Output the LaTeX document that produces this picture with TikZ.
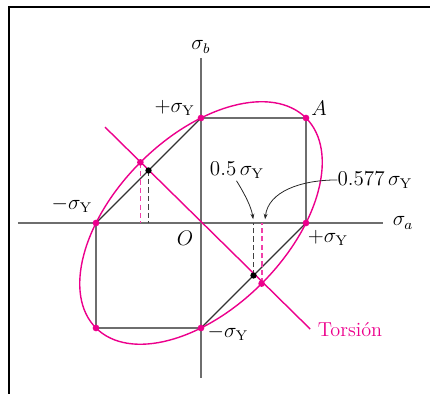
\documentclass[tikz,border=0pt]{standalone}
\usetikzlibrary{arrows.meta}
\definecolor{mag}{RGB}{236,0,140}
\definecolor{ln}{RGB}{110,110,110}
\begin{document}
\begin{tikzpicture}[x=2.1cm,y=2.1cm,
  font=\fontsize{11.5}{13}\selectfont,
  lbl/.style={inner sep=0pt},
  axis/.style={draw=ln, line width=0.65pt},
  hex/.style={draw=ln, line width=0.75pt},
  pdot/.style={fill=mag},
  bdot/.style={fill=black},
  pdash/.style={draw=mag!75, line width=1pt, dash pattern=on 3pt off 1.8pt},
  bdash/.style={draw=black!75, line width=1pt, dash pattern=on 3pt off 1.8pt},
  arr/.style={draw=black!85, line width=0.45pt, -{Stealth[length=3.2pt,width=2.2pt]}}]
\useasboundingbox (-1.9143,-1.6286) rectangle (2.1810,2.1238);
% frame
\draw[line width=0.85pt] (-1.8286,-1.7) -- (-1.8286,2.0571) -- (2.25,2.0571);
% axes
\coordinate (xl) at (-1.743,0);
\coordinate (xr) at (1.733,0);
\coordinate (yt) at (0,1.571);
\coordinate (yb) at (0,-1.476);
\draw[axis] (xl) -- (xr);
\draw[axis] (yb) -- (yt);
% hexagon points
\coordinate (O) at (0,0);
\coordinate (T) at (0,1);
\coordinate (A) at (1,1);
\coordinate (R) at (1,0);
\coordinate (B) at (0,-1);
\coordinate (BL) at (-1,-1);
\coordinate (L) at (-1,0);
\draw[hex] (T) -- (A) -- (R);
\draw[hex] (B) -- (BL) -- (L);
\draw[draw=black!80, line width=0.75pt] (R) -- (B);
\draw[draw=black!80, line width=0.75pt] (L) -- (T);
% torsion points
\coordinate (tp1) at (0.57735,-0.57735);
\coordinate (tp2) at (-0.57735,0.57735);
\coordinate (tb1) at (0.5,-0.5);
\coordinate (tb2) at (-0.5,0.5);
\coordinate (ta1) at (0.57735,0);
\coordinate (ta2) at (-0.57735,0);
\coordinate (tc1) at (0.5,0);
\coordinate (tc2) at (-0.5,0);
\coordinate (tstart) at (-0.914,0.913);
\coordinate (tend) at (1.04,-1.01);
\draw[bdash] (tb1) -- (tc1);
\draw[bdash] (tb2) -- (tc2);
\draw[pdash] (tp1) -- (ta1);
\draw[pdash] (tp2) -- (ta2);
% ellipse and torsion line
\draw[mag, line width=0.8pt, rotate=45] (O) ellipse (1.41421 and 0.81650);
\draw[mag, line width=0.8pt] (tstart) -- (tend);
% dots
\foreach \p in {T,A,R,B,BL,L,tp1,tp2} \fill[pdot] (\p) circle (1.9pt);
\foreach \p in {tb1,tb2} \fill[bdot] (\p) circle (1.8pt);
% labels
\node[lbl] (sb) at (0,1.676) {$\sigma_b$};
\node[lbl] (sa) at (1.924,0) {$\sigma_a$};
\node[lbl] (lT) at (-0.25,1.095) {$+\sigma_{\mathrm{Y}}$};
\node[lbl] (lA) at (1.124,1.095) {$A$};
\node[lbl] (lL) at (-1.229,0.171) {$-\sigma_{\mathrm{Y}}$};
\node[lbl] (lO) at (-0.152,-0.143) {$O$};
\node[lbl] (lR) at (1.21,-0.143) {$+\sigma_{\mathrm{Y}}$};
\node[lbl] (lB) at (0.257,-1.048) {$-\sigma_{\mathrm{Y}}$};
\node[lbl, text=mag] (tor) at (1.419,-1.019) {Torsión};
\node[lbl] (h5) at (0.343,0.505) {$0.5\,\sigma_{\mathrm{Y}}$};
\node[lbl] (h577) at (1.657,0.41) {$0.577\,\sigma_{\mathrm{Y}}$};
% arrows
\coordinate (a5e) at (0.497,0.035);
\coordinate (a577e) at (0.61,0.035);
\draw[arr] (h5.south) ++(-0.005,-0.02) .. controls (0.42,0.27) and (0.48,0.15) .. (a5e);
\draw[arr] (h577.west) .. controls (0.95,0.41) and (0.64,0.3) .. (a577e);
\end{tikzpicture}
\end{document}
